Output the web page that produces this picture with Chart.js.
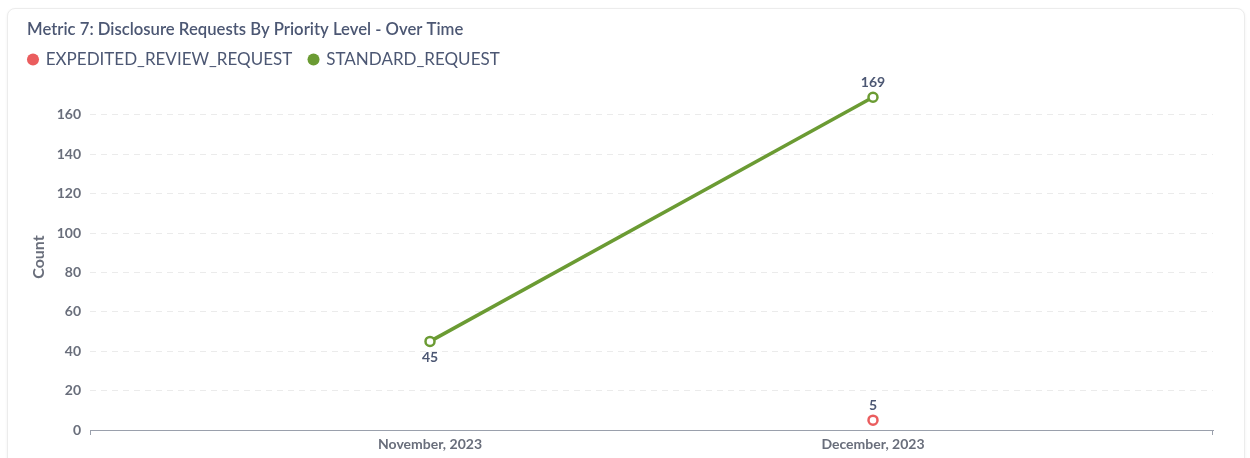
<!DOCTYPE html>
<html>
<head>
<meta charset="utf-8">
<script src="https://cdn.jsdelivr.net/npm/chart.js@4.4.1/dist/chart.umd.min.js"></script>
<style>
  html,body{margin:0;padding:0;background:#fff;}
  body{width:1250px;height:458px;position:relative;overflow:hidden;font-family:Lato,"Open Sans",sans-serif;}
  .card{position:absolute;left:7px;top:8px;width:1236px;height:470px;border:1px solid #ececec;border-radius:8px;box-shadow:0 1px 3px rgba(0,0,0,0.06);background:#fff;}
  #wrap{position:absolute;left:0;top:0;width:1250px;height:458px;}
</style>
</head>
<body>
<div class="card"></div>
<div id="wrap"><canvas id="c" width="1250" height="458"></canvas></div>
<script>
const chartTitle = "Metric 7: Disclosure Requests By Priority Level - Over Time";
const categories = ["November, 2023", "December, 2023"];
const seriesNames = ["EXPEDITED_REVIEW_REQUEST", "STANDARD_REQUEST"];
const expeditedValues = [null, 5];
const standardValues = [45, 169];
const yTicks = [0, 20, 40, 60, 80, 100, 120, 140, 160];
const labelPositions = { "EXPEDITED_REVIEW_REQUEST": ["above", "above"], "STANDARD_REQUEST": ["below", "above"] };

const RED = "#ea5d5e";
const GREEN = "#6b9b33";
const TEXT = "#4c5773";
const TICK = "#696e7b";

function toPoints(vals){ return vals.map((v,i)=> v===null ? null : {x:i, y:v}).filter(p=>p); }

const valueLabels = {
  id: 'valueLabels',
  afterDatasetsDraw(chart){
    const ctx = chart.ctx;
    ctx.save();
    ctx.font = "bold 14px Lato";
    ctx.fillStyle = TEXT;
    ctx.textAlign = "center";
    chart.data.datasets.forEach((ds, di)=>{
      const meta = chart.getDatasetMeta(di);
      meta.data.forEach((pt, i)=>{
        const raw = ds.data[i];
        const pos = labelPositions[ds.label][raw.x];
        ctx.textBaseline = "middle";
        const y = pos === "above" ? pt.y - 15 : pt.y + 16;
        ctx.fillText(String(raw.y), pt.x, y);
      });
    });
    ctx.restore();
  }
};

const axisEnds = {
  id: 'axisEnds',
  afterLayout(chart){
    const lg = chart.legend;
    lg.left = 11.75; 
    lg.top -= 6; lg.bottom -= 6;
    chart.titleBlock.left = 27;
  },
  afterDraw(chart){
    const a = chart.chartArea, ctx = chart.ctx;
    ctx.save();
    ctx.strokeStyle = "#9aa0ac";
    ctx.lineWidth = 1;
    ctx.beginPath();
    ctx.moveTo(a.left+0.5, a.bottom); ctx.lineTo(a.left+0.5, a.bottom+5);
    ctx.moveTo(a.right-0.5, a.bottom); ctx.lineTo(a.right-0.5, a.bottom+5);
    ctx.stroke();
    ctx.restore();
  }
};

new Chart(document.getElementById('c'), {
  type: 'line',
  data: {
    datasets: [
      { label: seriesNames[0], data: toPoints(expeditedValues), borderColor: RED, backgroundColor: RED,
        pointBackgroundColor: "#fff", pointBorderColor: RED, pointBorderWidth: 2.5, pointRadius: 4.5, borderWidth: 3.5 },
      { label: seriesNames[1], data: toPoints(standardValues), borderColor: GREEN, backgroundColor: GREEN,
        pointBackgroundColor: "#fff", pointBorderColor: GREEN, pointBorderWidth: 2.5, pointRadius: 4.5, borderWidth: 3.5 }
    ]
  },
  options: {
    responsive: false,
    animation: false,
    layout: { padding: { left: 27, right: 37, top: 8, bottom: 0 } },
    plugins: {
      tooltip: { enabled: false },
      title: { display: true, text: chartTitle, align: 'start', color: TEXT,
        font: { family: 'Lato', size: 16.7, weight: '600' }, padding: { top: 12, bottom: 0 } },
      legend: { display: true, position: 'top', align: 'start',
        labels: { usePointStyle: true, pointStyle: 'circle', boxWidth: 8.5, boxHeight: 8.5, color: TEXT,
          font: { family: 'Lato', size: 17 }, padding: 17,
          generateLabels(chart){
            return chart.data.datasets.map((d,i)=>({text:d.label, fillStyle:d.borderColor, strokeStyle:d.borderColor, lineWidth:0, pointStyle:'circle', datasetIndex:i, fontColor: TEXT}));
          } } }
    },
    scales: {
      x: { type: 'linear', min: -0.7675, max: 1.7675,
        afterBuildTicks(scale){ scale.ticks = categories.map((c,i)=>({value:i})); },
        afterFit(scale){ scale.height = 28; },
        ticks: { callback: (v)=> categories[v], color: TICK, font: { family: 'Lato', size: 14, weight: 'bold' }, padding: 6, autoSkip: false, maxRotation: 0 },
        grid: { display: false, drawTicks: false },
        border: { display: true, color: '#9aa0ac', width: 1 } },
      y: { type: 'linear', min: 0, max: 175.7,
        afterBuildTicks(scale){ scale.ticks = yTicks.map(v=>({value:v})); },
        afterFit(scale){ scale.width = 63; },
        title: { display: true, text: 'Count', color: TICK, font: { family: 'Lato', size: 16, weight: 'bold' }, padding: { top: 2, bottom: 0 } },
        ticks: { color: TICK, font: { family: 'Lato', size: 14, weight: 'bold' }, padding: 9 },
        grid: { color: '#ebebeb', drawTicks: false, tickLength: 0 },
        border: { display: false, dash: [6, 5] } }
    }
  },
  plugins: [valueLabels, axisEnds]
});
</script>
</body>
</html>
